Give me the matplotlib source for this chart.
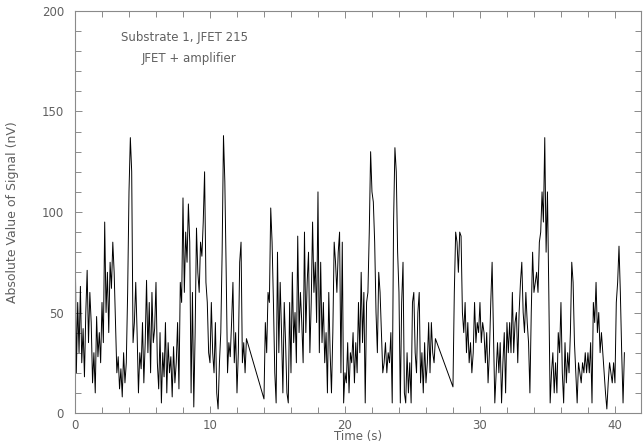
import numpy as np
import matplotlib
matplotlib.use("Agg")
import matplotlib.pyplot as plt
from matplotlib.ticker import MultipleLocator

# Tre acquisizioni da 12.8 s (dt = 0.1 s), separate da due pause
t_start = [0.0, 14.0, 28.0]
dt = 0.1

seg1 = [
    97, 20, 55, 30, 63, 25, 42, 18, 50, 71,
    35, 60, 45, 15, 30, 10, 48, 28, 40, 25,
    55, 35, 95, 50, 70, 40, 75, 62, 85, 70,
    45, 20, 28, 12, 22, 8, 30, 15, 25, 60,
    110, 137, 120, 35, 45, 65, 40, 10, 30, 22,
    45, 15, 35, 66, 30, 55, 20, 60, 35, 42,
    65, 25, 12, 40, 5, 30, 18, 45, 10, 35,
    20, 28, 8, 33, 15, 25, 45, 12, 65, 55,
    107, 60, 90, 75, 104, 85, 10, 60, 3, 40,
    92, 70, 60, 85, 78, 95, 120, 65, 55, 30,
    25, 55, 30, 20, 45, 10, 2, 25, 40, 80,
    138, 115, 70, 20, 35, 28, 45, 65, 25, 40,
    10, 30, 75, 85, 25, 35, 20, 37,
]
seg2 = [
    7, 45, 30, 60, 55, 102, 85, 55, 20, 5,
    80, 30, 65, 40, 10, 55, 35, 10, 5, 55,
    20, 70, 35, 50, 25, 88, 40, 60, 45, 25,
    90, 40, 65, 80, 30, 55, 95, 60, 75, 45,
    110, 30, 75, 35, 55, 25, 40, 10, 60, 30,
    10, 40, 85, 75, 60, 80, 90, 20, 85, 5,
    20, 15, 35, 10, 30, 25, 40, 15, 35, 20,
    55, 30, 70, 35, 60, 5, 55, 60, 90, 130,
    110, 105, 85, 50, 30, 70, 60, 40, 20, 25,
    35, 20, 30, 25, 40, 5, 95, 132, 120, 80,
    60, 5, 55, 75, 10, 5, 30, 10, 25, 5,
    55, 60, 30, 20, 50, 60, 15, 30, 10, 35,
    15, 25, 45, 20, 45, 30, 25, 37,
]
seg3 = [
    13, 60, 90, 85, 70, 90, 88, 50, 40, 55,
    30, 45, 25, 35, 20, 30, 55, 35, 45, 40,
    55, 35, 45, 40, 25, 40, 15, 30, 55, 75,
    40, 5, 20, 35, 20, 35, 5, 25, 40, 10,
    45, 30, 45, 30, 60, 30, 45, 50, 25, 50,
    65, 75, 50, 40, 60, 45, 35, 10, 50, 80,
    60, 65, 70, 60, 85, 90, 110, 95, 137, 80,
    110, 60, 5, 20, 30, 10, 25, 10, 40, 30,
    55, 20, 5, 35, 15, 30, 20, 40, 75, 65,
    35, 20, 5, 25, 20, 15, 25, 20, 30, 20,
    30, 20, 35, 5, 55, 45, 65, 40, 50, 30,
    40, 30, 20, 10, 2, 15, 25, 20, 15, 25,
    15, 55, 65, 83, 60, 30, 5, 30,
]

tempi = []
valori = []
for t0, seg in zip(t_start, [seg1, seg2, seg3]):
    tempi.extend(t0 + dt * np.arange(len(seg)))
    valori.extend(seg)

grigio = "#8a8a8a"
testo = "#606060"

fig = plt.figure(figsize=(6.44, 4.43), dpi=100)
ax = fig.add_axes([75 / 644, 30 / 443, 566 / 644, 402 / 443])

ax.plot(tempi, valori, color="black", lw=0.7)

ax.set_xlim(0, 41.93)
ax.set_ylim(0, 200)
ax.xaxis.set_major_locator(MultipleLocator(10))
ax.xaxis.set_minor_locator(MultipleLocator(2))
ax.yaxis.set_major_locator(MultipleLocator(50))
ax.yaxis.set_minor_locator(MultipleLocator(10))
ax.tick_params(which="both", direction="in", top=True, right=True,
               color=grigio, labelcolor=testo, labelsize=8.5, width=0.7)
ax.tick_params(which="major", length=5)
ax.tick_params(axis="x", which="major", pad=4)
ax.tick_params(axis="y", which="major", pad=8)
ax.tick_params(which="minor", length=4)
for s in ax.spines.values():
    s.set_color(grigio)
    s.set_linewidth(0.8)

ax.set_xlabel("Time (s)", color=testo, fontsize=8.5, labelpad=-1)
ax.set_ylabel("Absolute Value of Signal (nV)", color=testo, fontsize=9, labelpad=16)

ax.text(3.4, 187, "Substrate 1, JFET 215", color=testo, fontsize=8.5, va="center")
ax.text(4.9, 176.6, "JFET + amplifier", color=testo, fontsize=8.5, va="center")

plt.savefig("out.png", dpi=100)
